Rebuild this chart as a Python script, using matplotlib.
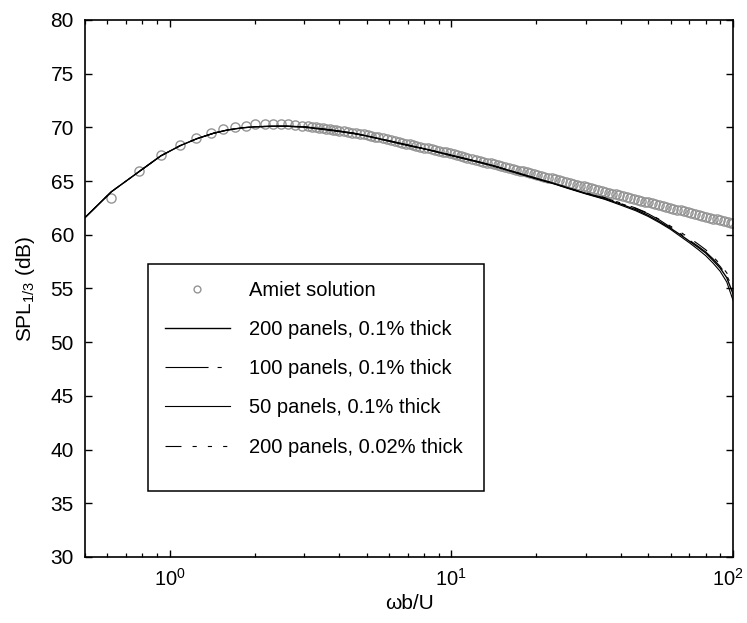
import matplotlib
matplotlib.use('Agg')
import matplotlib.pyplot as plt
import matplotlib.transforms as mtransforms
from matplotlib.patches import Rectangle
from matplotlib.ticker import LogLocator, NullFormatter

plt.rcParams['font.family'] = ['Liberation Sans', 'DejaVu Sans']
plt.rcParams['mathtext.fontset'] = 'custom'
plt.rcParams['mathtext.rm'] = 'Liberation Sans'
plt.rcParams['mathtext.default'] = 'regular'
plt.rcParams['lines.scale_dashes'] = False

# Amiet solution (circles)
amiet_x = [0.62, 0.775, 0.93, 1.085, 1.24, 1.395, 1.55, 1.705, 1.86, 2.015, 2.17, 2.325,
           2.48, 2.635, 2.79, 2.945,
           3.1, 3.2, 3.3, 3.4, 3.5, 3.6, 3.7, 3.8, 3.9, 4.0, 4.15, 4.3, 4.45, 4.6, 4.75,
           4.9, 5.05, 5.2, 5.35, 5.5, 5.7, 5.9, 6.1, 6.3, 6.5, 6.7, 6.9, 7.1, 7.3, 7.5,
           7.75, 8.0, 8.25, 8.5, 8.75, 9.0, 9.3, 9.6, 9.9, 10.2, 10.5, 10.8, 11.1, 11.4,
           11.8, 12.2, 12.6, 13.0, 13.4, 13.8, 14.2, 14.6, 15.0, 15.5, 16.0, 16.5, 17.0,
           17.5, 18.0, 18.5, 19.0, 19.6, 20.2, 20.8, 21.4, 22.0, 22.7, 23.4, 24.1, 24.8,
           25.5, 26.3, 27.1, 27.9, 28.7, 29.5, 30.4, 31.3, 32.2, 33.2, 34.2, 35.2, 36.2,
           37.3, 38.4, 39.5, 40.7, 41.9, 43.2, 44.5, 45.8, 47.2, 48.6, 50.0, 51.5, 53.0,
           54.6, 56.2, 57.9, 59.6, 61.4, 63.2, 65.1, 67.1, 69.1, 71.2, 73.3, 75.5, 77.8,
           80.1, 82.5, 85.0, 87.5, 90.1, 92.8, 95.6, 98.4, 100.0]
amiet_y = [63.4, 65.9, 67.4, 68.4, 69.0, 69.45, 69.8, 70.02, 70.17, 70.27, 70.32, 70.34,
           70.34, 70.3, 70.24, 70.17,
           70.10, 70.04, 69.99, 69.94, 69.90, 69.85, 69.80, 69.76, 69.72, 69.68, 69.62,
           69.56, 69.50, 69.45, 69.39, 69.34, 69.29, 69.20, 69.13, 69.06, 68.97, 68.88,
           68.80, 68.72, 68.64, 68.56, 68.49, 68.42, 68.35, 68.28, 68.20, 68.12, 68.04,
           67.96, 67.89, 67.82, 67.74, 67.66, 67.58, 67.49, 67.41, 67.33, 67.26, 67.18,
           67.08, 66.99, 66.90, 66.81, 66.72, 66.64, 66.56, 66.48, 66.41, 66.31, 66.22,
           66.14, 66.05, 65.97, 65.89, 65.81, 65.74, 65.65, 65.57, 65.48, 65.40, 65.32,
           65.24, 65.15, 65.07, 64.99, 64.91, 64.82, 64.74, 64.65, 64.57, 64.50, 64.41,
           64.33, 64.25, 64.16, 64.08, 64.00, 63.92, 63.83, 63.75, 63.67, 63.59, 63.51,
           63.42, 63.34, 63.25, 63.17, 63.09, 63.01, 62.92, 62.84, 62.76, 62.68, 62.59,
           62.51, 62.43, 62.35, 62.26, 62.18, 62.09, 62.01, 61.93, 61.84, 61.76, 61.68,
           61.59, 61.51, 61.43, 61.34, 61.26, 61.18, 61.10, 61.05]

# panel method results
num_x = [0.5, 0.62, 0.78, 0.93, 1.09, 1.25, 1.43, 1.6, 1.8, 2.0, 2.3, 2.6, 3.0, 3.5, 4.0,
         4.5, 5.0, 6.0, 7.0, 8.0, 9.0, 10, 12, 14, 16, 18, 20, 23, 26, 30, 35, 40, 45, 50,
         55, 60, 65, 70, 75, 80, 85, 90, 95, 100]
p200_t01 = [61.6, 64.0, 65.9, 67.35, 68.3, 68.95, 69.45, 69.75, 69.95, 70.05, 70.1, 70.1,
            70.05, 69.85, 69.65, 69.45, 69.2, 68.75, 68.35, 68.0, 67.7, 67.4, 66.9, 66.45,
            66.0, 65.6, 65.25, 64.8, 64.35, 63.85, 63.35, 62.85, 62.35, 61.8, 61.2, 60.6,
            60.0, 59.4, 58.85, 58.3, 57.6, 56.9, 56.0, 54.5]
p100_t01 = [61.6, 64.0, 65.9, 67.35, 68.3, 68.95, 69.45, 69.75, 69.95, 70.05, 70.1, 70.1,
            70.05, 69.85, 69.65, 69.45, 69.2, 68.75, 68.35, 68.0, 67.7, 67.4, 66.9, 66.45,
            66.0, 65.6, 65.25, 64.8, 64.35, 63.85, 63.45, 62.9, 62.45, 61.95, 61.35, 60.7,
            60.1, 59.5, 58.95, 58.4, 57.75, 57.05, 56.2, 55.0]
p50_t01 = [61.6, 64.0, 65.9, 67.35, 68.3, 68.95, 69.45, 69.75, 69.95, 70.05, 70.1, 70.1,
           70.0, 69.8, 69.6, 69.4, 69.2, 68.7, 68.3, 68.0, 67.65, 67.35, 66.85, 66.4,
           65.95, 65.55, 65.2, 64.75, 64.3, 63.8, 63.3, 62.75, 62.25, 61.7, 61.1, 60.5,
           59.85, 59.25, 58.65, 58.05, 57.35, 56.6, 55.6, 53.9]
p200_t002 = [61.6, 64.0, 65.9, 67.35, 68.3, 68.95, 69.45, 69.75, 69.95, 70.05, 70.1, 70.1,
             70.05, 69.85, 69.65, 69.45, 69.2, 68.75, 68.35, 68.0, 67.7, 67.4, 66.9, 66.45,
             66.0, 65.6, 65.25, 64.8, 64.35, 63.9, 63.45, 62.95, 62.5, 62.0, 61.4, 60.8,
             60.25, 59.7, 59.15, 58.6, 57.95, 57.25, 56.45, 55.4]

fig = plt.figure(figsize=(7.47, 6.23), dpi=100)
ax = fig.add_axes([0.1138, 0.106, 0.8675, 0.862])

ax.plot(amiet_x, amiet_y, 'o', ms=6.6, mfc='none', mec='#949494', mew=1.0,
        label='Amiet solution')
ax.plot(num_x, p200_t01, '-', color='black', lw=1.0, label='200 panels, 0.1% thick')
ax.plot(num_x, p100_t01, color='black', lw=0.8, dashes=(31, 6.5, 3, 6.5),
        label='100 panels, 0.1% thick')
ax.plot(num_x, p50_t01, '-', color='black', lw=0.8, label='50 panels, 0.1% thick')
ax.plot(num_x, p200_t002, color='black', lw=0.8, dashes=(11.5, 8, 3, 8, 3, 8, 3, 8),
        label='200 panels, 0.02% thick')

ax.set_xscale('log')
ax.set_xlim(0.5, 100)
ax.set_ylim(30, 80)
ax.set_xticks([1, 10, 100])
ax.set_yticks(range(30, 81, 5))
ax.xaxis.set_minor_locator(LogLocator(base=10, subs=range(2, 10)))
ax.xaxis.set_minor_formatter(NullFormatter())

for s in ax.spines.values():
    s.set_linewidth(1.2)
ax.tick_params(which='both', direction='in', top=True, right=True, pad=8)
ax.tick_params(axis='y', labelsize=15)
ax.tick_params(axis='x', labelsize=14.5)
ax.tick_params(which='major', length=5, width=1.0)
ax.tick_params(which='minor', length=3, width=0.9)

# nudge the 10^2 label left so it stays inside the figure
last = ax.xaxis.get_major_ticks()[-1].label1
last.set_transform(last.get_transform() +
                   mtransforms.ScaledTranslation(-5 / 100, 0, fig.dpi_scale_trans))

ax.set_xlabel('ωb/U', fontsize=15, labelpad=3)
ax.set_ylabel('SPL$_{1/3}$ (dB)', fontsize=15, labelpad=10)

# legend frame drawn separately (extra space at the bottom)
ax.add_patch(Rectangle((0.0972, 0.1229), 0.5185, 0.4227, transform=ax.transAxes,
                       fill=True, facecolor='white', edgecolor='black', lw=1.1, zorder=4))
leg = ax.legend(loc='upper left', bbox_to_anchor=(0.0972, 0.5456), frameon=False,
                fontsize=14.5, handlelength=3.2, handletextpad=0.95, labelspacing=1.0,
                borderpad=0.85, borderaxespad=0, markerscale=0.75)
leg.set_zorder(5)

plt.savefig('out.png', dpi=100)
